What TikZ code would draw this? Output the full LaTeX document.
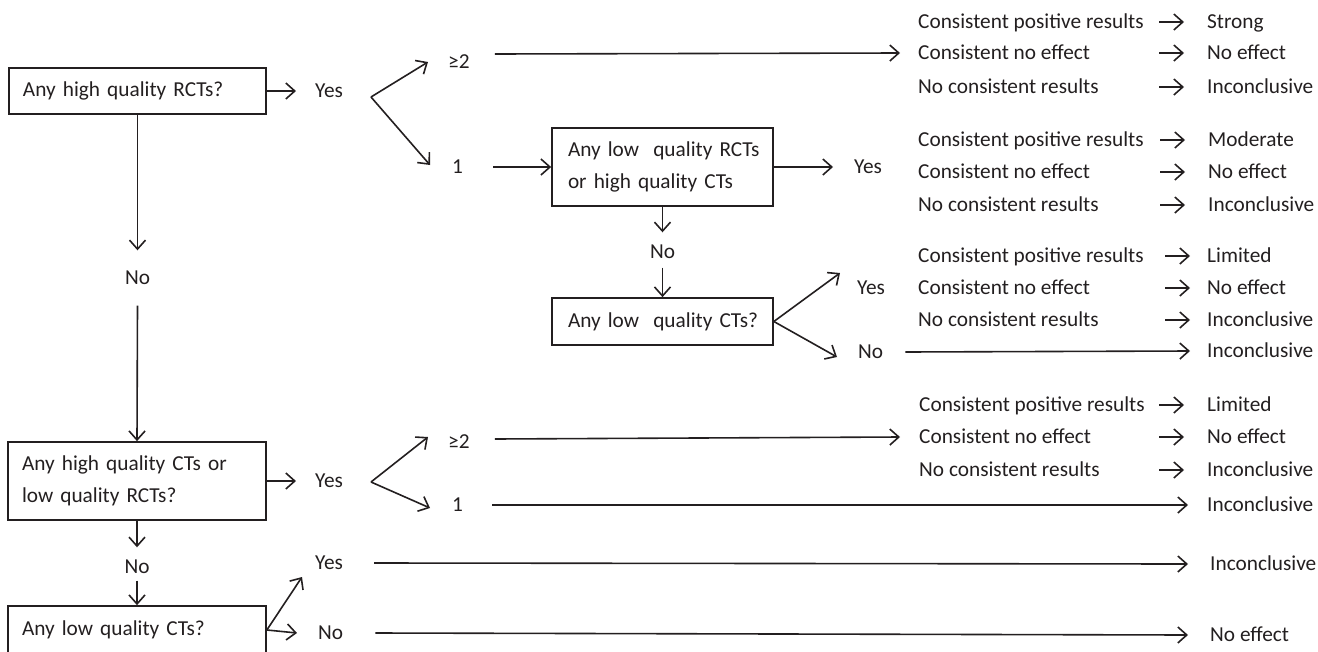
\documentclass[tikz,border=0pt]{standalone}
\usepackage{fontspec}
\setmainfont{Carlito}
\usetikzlibrary{arrows.meta,positioning}
\definecolor{ink}{RGB}{35,31,32}

\begin{document}
\begin{tikzpicture}[x=1pt, y=-1pt,
    every node/.style={font=\fontsize{21.3}{32}\selectfont, text=ink},
    box/.style={rectangle, draw=ink, line width=1.7pt, align=left, inner xsep=14pt},
    txt/.style={inner sep=0pt, anchor=west, text height=14pt, text depth=1pt},
    arr/.style={draw=ink, line width=1.6pt, -{Straight Barb[length=9pt,width=16pt]}}
]
    \clip (0,0) rectangle (1318,651);

    % questions
    \node[box, text width=229pt, minimum height=46pt] (rct) at (137.5,91) {Any high quality RCTs?};
    \node[box, text width=189pt, inner xsep=16pt, minimum height=78pt] (lrct) at (662.5,167) {\mbox{Any low\ \ quality RCTs}\\or high quality CTs};
    \node[box, text width=189pt, inner xsep=16pt, minimum height=47pt] (lct) at (662.5,321.5) {\mbox{Any low\ \ quality CTs?}};
    \node[box, text width=230pt, minimum height=78pt] (hq) at (137,481) {Any high quality CTs or\\low quality RCTs?};
    \node[box, text width=230pt, minimum height=48pt] (lq) at (137,630) {Any low quality CTs?};

    % answers
    \node[txt] (yes1) at (315,91) {Yes};
    \node[txt] (ge2a) at (448,62) {≥2};
    \node[txt] (one1) at (452,167) {1};
    \node[txt] (yes2) at (854,167) {Yes};
    \node[txt, anchor=center] (no2) at (662.5,252) {No};
    \node[txt] (yes3) at (857,288) {Yes};
    \node[txt] (no3) at (858,352) {No};
    \node[txt, anchor=center] (noL1) at (137.5,278) {No};
    \node[txt] (yes4) at (315,481) {Yes};
    \node[txt] (ge2b) at (448,442) {≥2};
    \node[txt] (one2) at (452,505) {1};
    \node[txt, anchor=center] (noL2) at (137,567) {No};
    \node[txt] (yes5) at (315,563) {Yes};
    \node[txt] (no5) at (318,633) {No};
    \coordinate (v1) at (371,97);
    \coordinate (v4) at (371,482);

    % findings
    \node[txt] (a1) at (918,22) {Consistent positive results};
    \node[txt] (a2) at (918,53) {Consistent no effect};
    \node[txt] (a3) at (918,87) {No consistent results};
    \node[txt] (b1) at (918,140) {Consistent positive results};
    \node[txt] (b2) at (918,172) {Consistent no effect};
    \node[txt] (b3) at (918,205) {No consistent results};
    \node[txt] (c1) at (918,256) {Consistent positive results};
    \node[txt] (c2) at (918,288) {Consistent no effect};
    \node[txt] (c3) at (918,320) {No consistent results};
    \node[txt] (d1) at (919,405) {Consistent positive results};
    \node[txt] (d2) at (919,437) {Consistent no effect};
    \node[txt] (d3) at (919,470) {No consistent results};

    % levels of evidence
    \node[txt] (ra1) at (1207,22) {Strong};
    \node[txt] (ra2) at (1207,53) {No effect};
    \node[txt] (ra3) at (1207,87) {Inconclusive};
    \node[txt] (rb1) at (1208,140) {Moderate};
    \node[txt] (rb2) at (1208,172) {No effect};
    \node[txt] (rb3) at (1208,205) {Inconclusive};
    \node[txt] (rc1) at (1207,256) {Limited};
    \node[txt] (rc2) at (1207,288) {No effect};
    \node[txt] (rc3) at (1207,320) {Inconclusive};
    \node[txt] (rc4) at (1207,351) {Inconclusive};
    \node[txt] (rd1) at (1207,405) {Limited};
    \node[txt] (rd2) at (1207,437) {No effect};
    \node[txt] (rd3) at (1207,470) {Inconclusive};
    \node[txt] (rd4) at (1207,505) {Inconclusive};
    \node[txt] (re) at (1210,564) {Inconclusive};
    \node[txt] (rf) at (1210,635) {No effect};

    % high quality RCTs
    \draw[arr] (rct.east) -- ([xshift=-19pt]yes1.west);
    \draw[arr] (v1) -- ([xshift=-20pt]ge2a.west);
    \draw[arr] (v1) -- ([xshift=-22pt,yshift=2pt]one1.west);
    \draw[arr] ([xshift=25pt,yshift=8pt]ge2a.east) -- ([xshift=-18pt]a2.west);
    \draw[arr] ([xshift=30pt]one1.east) -- (lrct.west);
    \draw[arr] (lrct.east) -- ([xshift=-21pt]yes2.west);
    \draw[arr] (lrct.south) -- ([yshift=12pt]no2.north);
    \draw[arr] ([yshift=-8pt]no2.south) -- (lct.north);
    \draw[arr] (lct.east) -- ([xshift=-17pt,yshift=15pt]yes3.west);
    \draw[arr] (lct.east) -- ([xshift=-21pt,yshift=-5pt]no3.west);
    \draw[arr] ([xshift=22pt]no3.east) -- ([xshift=-17pt]rc4.west);

    % high quality CTs or low quality RCTs
    \draw[arr] (rct.south) -- ([yshift=20pt]noL1.north);
    \draw[arr] ([yshift=-20pt]noL1.south) -- (hq.north);
    \draw[arr] (hq.east) -- ([xshift=-19pt]yes4.west);
    \draw[arr] (v4) -- ([xshift=-20pt,yshift=5pt]ge2b.west);
    \draw[arr] (v4) -- ([xshift=-22pt,yshift=-3pt]one2.west);
    \draw[arr] ([xshift=25pt,yshift=3pt]ge2b.east) -- ([xshift=-19pt]d2.west);
    \draw[arr] ([xshift=29pt]one2.east) -- ([xshift=-19pt]rd4.west);

    % low quality CTs
    \draw[arr] (hq.south) -- ([yshift=12pt]noL2.north);
    \draw[arr] ([yshift=-6pt]noL2.south) -- (lq.north);
    \draw[arr] (lq.east) -- ([xshift=-13pt,yshift=-14pt]yes5.west);
    \draw[arr] (lq.east) -- ([xshift=-21pt]no5.west);
    \draw[arr] ([xshift=31pt]yes5.east) -- ([xshift=-22pt]re.west);
    \draw[arr] ([xshift=32pt]no5.east) -- ([xshift=-22pt]rf.west);

    \foreach \r in {ra1,ra2,ra3,rb1,rb2,rb3,rd1,rd2,rd3}
        \draw[arr] ([xshift=-48pt]\r.west) -- ([xshift=-23pt]\r.west);
    \foreach \r in {rc1,rc2,rc3}
        \draw[arr] ([xshift=-42pt]\r.west) -- ([xshift=-17pt]\r.west);
\end{tikzpicture}
\end{document}
